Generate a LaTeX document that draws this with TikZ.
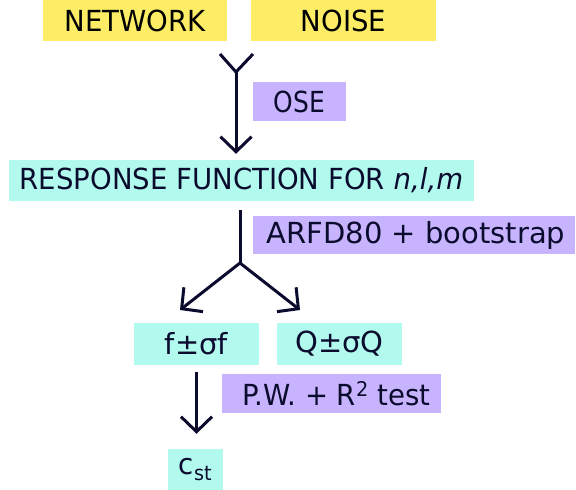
\documentclass[tikz,border=0pt]{standalone}
\usepackage{fontspec}
\setmainfont{DejaVu Sans}[FakeStretch=0.95]
\newfontfamily\widefont{DejaVu Sans}[FakeStretch=1.0]
\newfontfamily\narrowfont{DejaVu Sans}[FakeStretch=0.86]
\usetikzlibrary{arrows.meta}
\definecolor{yel}{HTML}{FCEC66}
\definecolor{cyn}{HTML}{B2F9EE}
\definecolor{pur}{HTML}{C8B4FE}
\definecolor{ink}{HTML}{0B0B2E}
\begin{document}
\begin{tikzpicture}[x=1pt,y=-1pt,
  box/.style={inner sep=0pt, font=\fontsize{29}{34}\selectfont, anchor=center},
  ybox/.style={box, fill=yel, text=black},
  cbox/.style={box, fill=cyn, text=ink},
  pbox/.style={box, fill=pur, text=ink},
  conn/.style={draw=ink, line width=3pt},
  arr/.style={conn, -{Straight Barb[length=15pt,width=31pt]}}]
\useasboundingbox (0,0) rectangle (576,490);
\node[ybox, minimum width=184pt, minimum height=41pt] (net) at (135,20.5) {NETWORK};
\node[ybox, minimum width=185pt, minimum height=41pt] (noise) at (343.5,20.5) {NOISE};
\node[pbox, minimum width=93pt, minimum height=39pt] (ose) at (299.5,101.5) {\narrowfont OSE};
\node[cbox, minimum width=465pt, minimum height=41pt] (resp) at (241.5,180.5) {RESPONSE FUNCTION FOR \textit{n,l,m}};
\node[pbox, minimum width=322pt, minimum height=38pt] (arfd) at (414,235) {\widefont\hspace*{4pt}ARFD80 + bootstrap};
\node[cbox, minimum width=125pt, minimum height=42pt] (f) at (196.5,344) {\widefont f±σf};
\node[cbox, minimum width=125pt, minimum height=42pt] (q) at (339.5,344) {\widefont Q±σQ};
\node[pbox, minimum width=219pt, minimum height=39pt] (pw) at (331.5,393.5) {\hspace*{10pt}P.W. + R\textsuperscript{2} test};
\node[cbox, minimum width=55pt, minimum height=41pt] (cst) at (195.5,469.5) {c\textsubscript{st}};
% merge of network and noise
\coordinate (ya) at (220,54);
\coordinate (yb) at (253,54);
\coordinate (ym) at (236,72);
\draw[conn] (ya) -- (ym) -- (yb);
\draw[arr] (ym) -- ([yshift=6pt]resp.north -| ym);
% split
\coordinate (sp) at (240,263);
\coordinate (fl) at (180,310);
\coordinate (qr) at (300,310);
\draw[conn] ([yshift=-9pt]resp.south -| sp) -- (sp);
\draw[arr] (sp) -- (fl);
\draw[arr] (sp) -- (qr);
% to cst
\draw[arr] ([yshift=-7pt]f.south) -- ([yshift=15pt]cst.north -| f.south);
\end{tikzpicture}
\end{document}
